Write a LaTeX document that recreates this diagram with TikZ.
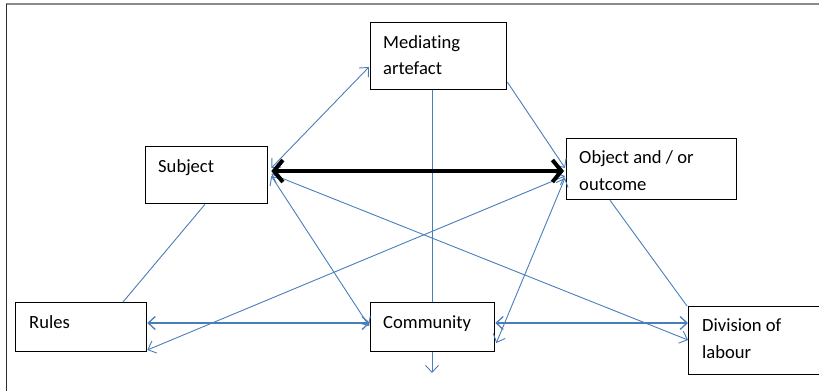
\documentclass[tikz,border=0pt]{standalone}
\usepackage{fontspec}
\setmainfont{Carlito}[Ligatures=NoCommon]
\usetikzlibrary{arrows.meta,calc}
\definecolor{linkblue}{HTML}{4A7EBB}
\definecolor{framegray}{HTML}{8A8A8A}
\definecolor{framedark}{HTML}{2E2E2E}
\begin{document}
\begin{tikzpicture}[x=1pt,y=-1pt,
  box/.style={draw=black,line width=1.3pt,fill=white,rectangle,anchor=north west,inner sep=0pt},
  lbl/.style={anchor=base west,inner sep=0pt,font=\fontsize{18.6}{26}\selectfont},
  conn/.style={draw=linkblue,line width=0.9pt},
  hconn/.style={draw=linkblue,line width=1.3pt},
  barb/.style={arrows={Straight Barb[length=7pt,width=13pt]-Straight Barb[length=7pt,width=13pt]}},
  endbarb/.style={arrows={-Straight Barb[length=7pt,width=13pt]}},
  bold/.style={draw=black,line width=4pt,arrows={Straight Barb[length=9pt,width=22pt]-Straight Barb[length=9pt,width=22pt]}}
]
\useasboundingbox (0,0) rectangle (819,391);
\clip (0,0) rectangle (819,391);
% frame
\draw[framegray,line width=1.6pt] (6,4) -- (819,4);
\draw[framedark,line width=1.2pt] (6.5,4) -- (6.5,391);

% boxes
\node[box,minimum width=136pt,minimum height=67pt] (med) at (370,22) {};
\node[box,minimum width=122pt,minimum height=57pt] (subj) at (145,146) {};
\node[box,minimum width=170pt,minimum height=61pt] (obj) at (566,138) {};
\node[box,minimum width=131pt,minimum height=49pt] (rules) at (15,302) {};
\node[box,minimum width=124pt,minimum height=49pt] (comm) at (370,302) {};
\node[box,minimum width=150pt,minimum height=68pt] (div) at (688,306) {};

% labels
\node[lbl] (medA) at ($(med.north west)+(13,26)$) {Mediating};
\node[lbl] (medB) at ($(med.north west)+(13,52)$) {artefact};
\node[lbl] (subjA) at ($(subj.north west)+(13,26)$) {Subject};
\node[lbl] (objA) at ($(obj.north west)+(13,25)$) {Object and / or};
\node[lbl] (objB) at ($(obj.north west)+(13,52)$) {outcome};
\node[lbl] (rulesA) at ($(rules.north west)+(14,26)$) {Rules};
\node[lbl] (commA) at ($(comm.north west)+(13,26)$) {Community};
\node[lbl] (divA) at ($(div.north west)+(14,25)$) {Division of};
\node[lbl] (divB) at ($(div.north west)+(14,52)$) {labour};

\coordinate (down) at (432,373);

% connectors
\draw[conn,barb] ($(subj.north east)+(3,22)$) -- ($(med.north west)+(-1,45)$);
\draw[conn,endbarb] ($(med.north east)+(0,60)$) -- ($(obj.north west)+(-1,30)$);
\draw[conn] ($(subj.south west)+(60,0)$) -- ($(rules.north west)+(108,0)$);
\draw[conn,barb] ($(subj.north east)+(3,30)$) -- ($(comm.north west)+(-1,24)$);
\draw[conn,barb] ($(subj.north east)+(3,28)$) -- ($(div.north west)+(0,34)$);
\draw[conn,barb] ($(rules.north east)+(0,48)$) -- ($(obj.north west)+(-1,38)$);
\draw[conn,barb] ($(comm.north east)+(1,41)$) -- ($(obj.north west)+(-1,40)$);
\draw[conn] ($(obj.south west)+(44,0)$) -- ($(div.north west)+(-1,0)$);
\draw[hconn,barb] ($(rules.north east)+(0,21)$) -- ($(comm.north west)+(0,21)$);
\draw[hconn,barb] ($(comm.north east)+(0,21)$) -- ($(div.north west)+(0,17)$);
\draw[conn] ($(med.south west)+(62,0)$) -- ($(comm.north west)+(62,0)$);
\draw[conn,endbarb] ($(comm.south west)+(62,0)$) -- (down);
\draw[bold] ($(subj.north east)+(3,25)$) -- ($(obj.north west)+(-2,33)$);
\end{tikzpicture}
\end{document}
